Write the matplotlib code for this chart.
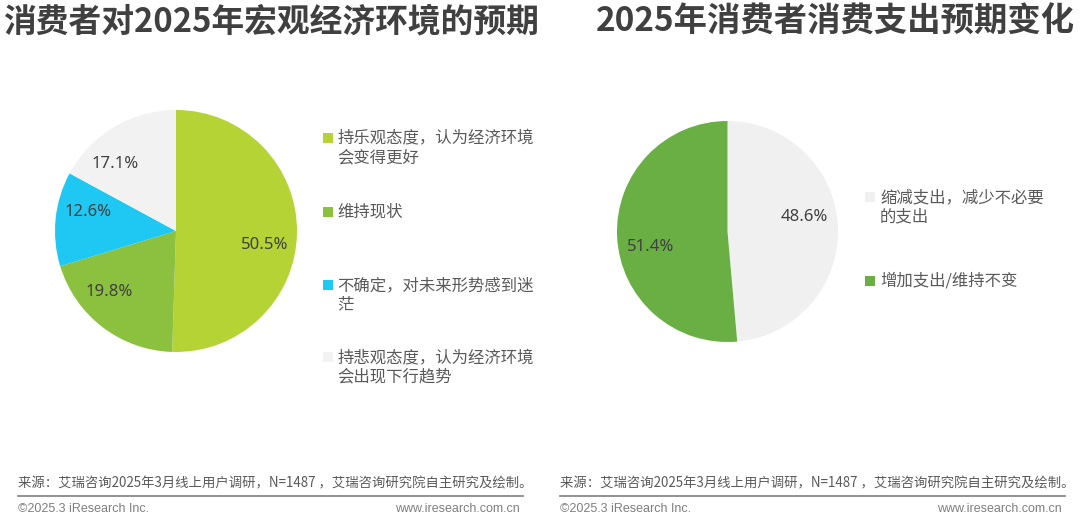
import matplotlib
matplotlib.use("Agg")
import numpy as np
import matplotlib.pyplot as plt
from matplotlib.patches import Rectangle

plt.rcParams['font.family'] = ['Noto Sans CJK SC', 'DejaVu Sans']

# ---- data ----
left_title = "消费者对2025年宏观经济环境的预期"
left_labels = ["持乐观态度，认为经济环境\n会变得更好", "维持现状",
               "不确定，对未来形势感到迷\n茫", "持悲观态度，认为经济环境\n会出现下行趋势"]
left_values = [50.5, 19.8, 12.6, 17.1]
left_colors = ["#B5D334", "#8BC13F", "#1FC8F2", "#F2F2F2"]

right_title = "2025年消费者消费支出预期变化"
right_labels = ["缩减支出，减少不必要\n的支出", "增加支出/维持不变"]
right_values = [48.6, 51.4]
right_colors = ["#F0F0F0", "#6AAF44"]

source_text = "来源：艾瑞咨询2025年3月线上用户调研，N=1487 ，艾瑞咨询研究院自主研究及绘制。"
copyright_text = "©2025.3 iResearch Inc."
site_text = "www.iresearch.com.cn"

# ---- layout / style (label angular nudges in degrees, not data) ----
left_label_nudge = [-8, -10, -6.7, 11.5]
right_label_nudge = [7.8, 8.6]

W, H = 1080, 518
fig = plt.figure(figsize=(W / 100, H / 100), dpi=100)
fig.patch.set_facecolor("white")


def px_axes(x, y_top, w, h):
    return fig.add_axes([x / W, 1 - (y_top + h) / H, w / W, h / H])


def fx(x):
    return x / W


def fy(y):
    return 1 - y / H


text_dark = "#404040"
text_grey = "#595959"

# titles
fig.text(fx(3), fy(22), left_title, fontsize=23.6, fontweight="bold", color=text_dark,
         ha="left", va="center")
fig.text(fx(596), fy(22), right_title, fontsize=24, fontweight="bold", color=text_dark,
         ha="left", va="center")

pct_props = dict(fontsize=12, color=text_dark, family=["Noto Sans", "DejaVu Sans"])


def nudge(autotexts, angles):
    for t, a in zip(autotexts, angles):
        x, y = t.get_position()
        r = np.hypot(x, y)
        th = np.arctan2(y, x) + np.deg2rad(a)
        t.set_position((r * np.cos(th), r * np.sin(th)))


# left pie
ax1 = px_axes(55, 110, 242, 242)
_, _, at1 = ax1.pie(left_values, colors=left_colors, startangle=90, counterclock=False,
                    autopct=lambda p: f"{p:.1f}%", pctdistance=0.745,
                    textprops=pct_props, wedgeprops=dict(linewidth=0))
nudge(at1, left_label_nudge)
ax1.set_xlim(-1, 1)
ax1.set_ylim(-1, 1)
ax1.set_aspect("equal")

# right pie
ax2 = px_axes(617, 121, 221, 221)
_, _, at2 = ax2.pie(right_values, colors=right_colors, startangle=90, counterclock=False,
                    autopct=lambda p: f"{p:.1f}%", pctdistance=0.71,
                    textprops=pct_props, wedgeprops=dict(linewidth=0))
nudge(at2, right_label_nudge)
ax2.set_xlim(-1, 1)
ax2.set_ylim(-1, 1)
ax2.set_aspect("equal")


# legends (manual)
def legend_item(x_sq, y_first, label, color):
    sq = 10
    fig.patches.append(Rectangle((fx(x_sq), fy(y_first + sq / 2)), sq / W, sq / H,
                                 transform=fig.transFigure, facecolor=color,
                                 edgecolor="none"))
    fig.text(fx(x_sq + 15), fy(y_first - 8), label, fontsize=11.8, color=text_grey,
             ha="left", va="top", linespacing=1.2)


left_leg_y = [137.5, 212, 285, 357]
for y, lab, c in zip(left_leg_y, left_labels, left_colors):
    legend_item(322.5, y, lab, c)

right_leg_y = [197, 281]
for y, lab, c in zip(right_leg_y, right_labels, right_colors):
    legend_item(865, y, lab, c)

# footers
for x0, x1 in [(18, 523), (560, 1065)]:
    fig.text(fx(x0), fy(483), source_text, fontsize=9.6, color=text_grey,
             ha="left", va="center")
    fig.add_artist(plt.Line2D([fx(x0), fx(x1)], [fy(496), fy(496)],
                              transform=fig.transFigure, color="#7F7F7F", linewidth=1.2))
    fig.text(fx(x0), fy(509), copyright_text, fontsize=9, color="#7F7F7F",
             family="Liberation Sans", ha="left", va="center")
    fig.text(fx(x1 - 3), fy(509), site_text, fontsize=9, color="#7F7F7F",
             family="Liberation Sans", ha="right", va="center")

fig.savefig("out.png", dpi=100, facecolor="white")
